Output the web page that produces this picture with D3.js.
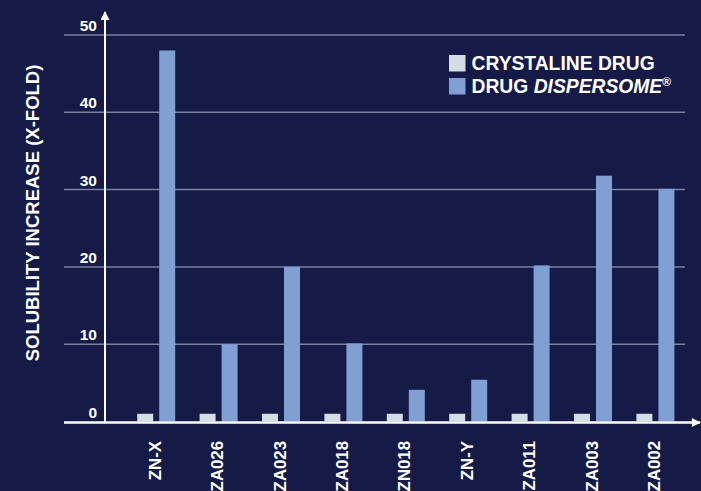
<!DOCTYPE html>
<html>
<head>
<meta charset="utf-8">
<script src="https://cdn.jsdelivr.net/npm/d3@7"></script>
<style>
  html, body { margin: 0; padding: 0; background: #151a46; }
  svg { display: block; font-family: "Liberation Sans", Arial, sans-serif; }
</style>
</head>
<body>
<svg id="chart" width="701" height="491"></svg>
<script>
const categories = ["ZN-X", "ZA026", "ZA023", "ZA018", "ZN018", "ZN-Y", "ZA011", "ZA003", "ZA002"];
const crystaline = [1, 1, 1, 1, 1, 1, 1, 1, 1];
const dispersome = [48, 10, 20, 10.1, 4.1, 5.4, 20.2, 31.8, 30.1];
const yTicks = [0, 10, 20, 30, 40, 50];
const seriesNames = ["crystaline", "dispersome"];

const svg = d3.select("#chart");

// scales
const y = d3.scaleLinear().domain([0, 50]).range([421.5, 35]);
const x = d3.scaleBand().domain(categories).range([125, 686.6]).padding(0);
const xInner = d3.scaleBand().domain(seriesNames).range([-19, 19]).paddingInner(0.273);
const color = d3.scaleOrdinal().domain(seriesNames).range(["#d4dce4", "#809fd2"]);

// gridlines
svg.append("g")
  .selectAll("line")
  .data(yTicks.filter(d => d > 0))
  .join("line")
  .attr("x1", 64).attr("x2", 685)
  .attr("y1", d => y(d)).attr("y2", d => y(d))
  .attr("stroke", "#7d82a0")
  .attr("stroke-width", 1.5);

// y tick labels
svg.append("g")
  .selectAll("text")
  .data(yTicks)
  .join("text")
  .attr("x", 97)
  .attr("y", d => y(d) - 4)
  .attr("text-anchor", "end")
  .attr("fill", "#ffffff")
  .attr("font-size", 15.5)
  .attr("font-weight", "bold")
  .text(d => d);

// bars
const rows = categories.map((c, i) => ({ cat: c, crystaline: crystaline[i], dispersome: dispersome[i] }));
const groups = svg.append("g")
  .selectAll("g")
  .data(rows)
  .join("g")
  .attr("transform", d => `translate(${x(d.cat) + x.bandwidth() / 2},0)`);

groups.selectAll("rect")
  .data(d => seriesNames.map(s => ({ key: s, value: d[s] })))
  .join("rect")
  .attr("x", d => xInner(d.key))
  .attr("width", xInner.bandwidth())
  .attr("y", d => y(d.value))
  .attr("height", d => y(0) - y(d.value))
  .attr("fill", d => color(d.key));

// x labels
groups.append("text")
  .attr("transform", "translate(4.5,441) rotate(-90)")
  .attr("text-anchor", "end")
  .attr("fill", "#ffffff")
  .attr("font-size", 16.8)
  .attr("font-weight", "bold")
  .text(d => d.cat);

// axes with arrows
const defs = svg.append("defs");
defs.append("marker")
  .attr("id", "arrow")
  .attr("viewBox", "0 0 10 10")
  .attr("refX", 9).attr("refY", 5)
  .attr("markerWidth", 10).attr("markerHeight", 9)
  .attr("markerUnits", "userSpaceOnUse")
  .attr("orient", "auto")
  .append("path")
  .attr("d", "M0,0 L10,5 L0,10 z")
  .attr("fill", "#ffffff");

svg.append("line")
  .attr("x1", 64).attr("x2", 700)
  .attr("y1", 422.5).attr("y2", 422.5)
  .attr("stroke", "#ffffff").attr("stroke-width", 2.5)
  .attr("marker-end", "url(#arrow)");

svg.append("line")
  .attr("x1", 105).attr("x2", 105)
  .attr("y1", 422).attr("y2", 12)
  .attr("stroke", "#ffffff").attr("stroke-width", 2)
  .attr("marker-end", "url(#arrow)");

// y axis title
svg.append("text")
  .attr("transform", "translate(38.5,213) rotate(-90)")
  .attr("text-anchor", "middle")
  .attr("fill", "#ffffff")
  .attr("font-size", 18.5)
  .attr("font-weight", "bold")
  .text("SOLUBILITY INCREASE (X-FOLD)");

// legend
const legend = svg.append("g").attr("transform", "translate(449,55)");
legend.selectAll("rect")
  .data(seriesNames)
  .join("rect")
  .attr("x", 0)
  .attr("y", (d, i) => i * 23)
  .attr("width", 16.5).attr("height", 16.5)
  .attr("fill", d => color(d));

legend.append("text")
  .attr("x", 22.5).attr("y", 15)
  .attr("fill", "#ffffff").attr("font-size", 19.3).attr("font-weight", "bold")
  .text("CRYSTALINE DRUG");

const t2 = legend.append("text")
  .attr("x", 22.5).attr("y", 38)
  .attr("fill", "#ffffff").attr("font-size", 19.3).attr("font-weight", "bold");
t2.append("tspan").text("DRUG ");
t2.append("tspan").attr("font-style", "italic").text("DISPERSOME");
t2.append("tspan").attr("font-size", 12).attr("dy", -7).text("®");
</script>
</body>
</html>
